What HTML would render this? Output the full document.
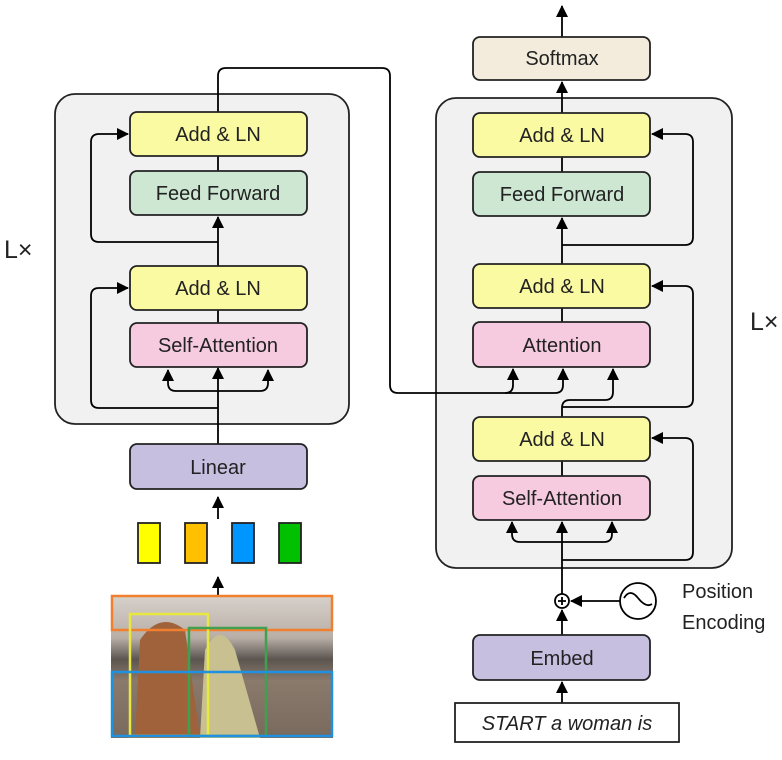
<!DOCTYPE html><html><head><style>body{margin:0;background:#fff}</style></head><body>
<svg width="782" height="755" xmlns="http://www.w3.org/2000/svg" font-family="Liberation Sans, sans-serif">
<defs><marker id="a" markerWidth="12" markerHeight="12" refX="11" refY="6" orient="auto" markerUnits="userSpaceOnUse"><path d="M0,0L12,6L0,12z" fill="#000"/></marker>
<linearGradient id="ph" x1="0" y1="0" x2="0" y2="1"><stop offset="0" stop-color="#d8d2cc"/><stop offset="0.3" stop-color="#b8aea6"/><stop offset="0.45" stop-color="#5c5550"/><stop offset="0.6" stop-color="#8a7a6c"/><stop offset="1" stop-color="#7a6a5e"/></linearGradient></defs>
<rect x="55" y="94" width="294" height="330" rx="20" fill="#f1f1f1" stroke="#222" stroke-width="1.8"/>
<rect x="436" y="98" width="296" height="470" rx="20" fill="#f1f1f1" stroke="#222" stroke-width="1.8"/>
<g stroke="#000" stroke-width="1.8" fill="none">
<path d="M218,595V577" marker-end="url(#a)"/><path d="M218,519V497" marker-end="url(#a)"/>
<path d="M218,444V368" marker-end="url(#a)"/>
<path d="M218,391H176Q168,391 168,383V370" marker-end="url(#a)"/><path d="M218,391H260Q268,391 268,383V370" marker-end="url(#a)"/>
<path d="M218,408H99Q91,408 91,400V296Q91,288 99,288H128" marker-end="url(#a)"/>
<path d="M218,310V323"/><path d="M218,266V217" marker-end="url(#a)"/>
<path d="M218,242H99Q91,242 91,234V142Q91,134 99,134H128" marker-end="url(#a)"/>
<path d="M218,171V156"/><path d="M218,112V76Q218,68 226,68H382Q390,68 390,76V385Q390,393 398,393H505Q513,393 513,385V369" marker-end="url(#a)"/>
<path d="M505,393H555Q563,393 563,385V369" marker-end="url(#a)"/>
<path d="M562,417V408Q562,400 570,400H605Q613,400 613,392V369" marker-end="url(#a)"/>
<path d="M562,407H685Q693,407 693,399V294Q693,286 685,286H652" marker-end="url(#a)"/>
<path d="M562,308V322"/><path d="M562,264V218" marker-end="url(#a)"/>
<path d="M562,245H685Q693,245 693,237V142Q693,134 685,134H652" marker-end="url(#a)"/>
<path d="M562,172V157"/><path d="M562,113V82" marker-end="url(#a)"/><path d="M562,37V6" marker-end="url(#a)"/>
<path d="M562,461V476"/>
<path d="M562,594V522" marker-end="url(#a)"/>
<path d="M562,542H520Q512,542 512,534V522" marker-end="url(#a)"/><path d="M562,542H604Q612,542 612,534V522" marker-end="url(#a)"/>
<path d="M562,560H685Q693,560 693,552V446Q693,438 685,438H652" marker-end="url(#a)"/>
<path d="M562,635V610" marker-end="url(#a)"/><path d="M562,703V682" marker-end="url(#a)"/>
<path d="M620,601H571" marker-end="url(#a)"/>
<circle cx="562" cy="601" r="7" fill="#fff"/><path d="M558,601h8M562,597v8"/>
<circle cx="638" cy="601" r="18" fill="#fff"/><path d="M624,598Q630,588 638,598T652,604"/>
</g>
<g stroke="#222" stroke-width="1.8">
<rect x="130" y="112" width="177" height="44" rx="7" fill="#fafaa2"/>
<rect x="130" y="171" width="177" height="44" rx="7" fill="#cde7d3"/>
<rect x="130" y="266" width="177" height="44" rx="7" fill="#fafaa2"/>
<rect x="130" y="323" width="177" height="44" rx="7" fill="#f6cbe0"/>
<rect x="130" y="444" width="177" height="45" rx="7" fill="#c6bfe0"/>
<rect x="473" y="37" width="177" height="43" rx="7" fill="#f3ecdc"/>
<rect x="473" y="113" width="177" height="44" rx="7" fill="#fafaa2"/>
<rect x="473" y="172" width="177" height="44" rx="7" fill="#cde7d3"/>
<rect x="473" y="264" width="177" height="44" rx="7" fill="#fafaa2"/>
<rect x="473" y="322" width="177" height="45" rx="7" fill="#f6cbe0"/>
<rect x="473" y="417" width="177" height="44" rx="7" fill="#fafaa2"/>
<rect x="473" y="476" width="177" height="44" rx="7" fill="#f6cbe0"/>
<rect x="473" y="635" width="177" height="45" rx="7" fill="#c6bfe0"/>
<rect x="455" y="703" width="224" height="39" fill="#fff"/>
<rect x="138" y="523" width="22" height="40" fill="#ffff00"/>
<rect x="185" y="523" width="22" height="40" fill="#ffc000"/>
<rect x="232" y="523" width="22" height="40" fill="#0096ff"/>
<rect x="279" y="523" width="22" height="40" fill="#00c000"/>
</g>
<rect x="111" y="595" width="222" height="143" fill="url(#ph)"/>
<path d="M140,640Q160,610 185,630L200,738H135Z" fill="#a0623a"/>
<path d="M205,650Q220,620 235,650L260,738H200Z" fill="#c8c090"/>
<g fill="none" stroke-width="2.5"><rect x="112" y="596" width="220" height="34" stroke="#f08030"/><rect x="130" y="614" width="78" height="122" stroke="#e8e840"/><rect x="189" y="628" width="77" height="108" stroke="#40a050"/><rect x="112" y="672" width="220" height="64" stroke="#2090e0"/></g>
<g font-size="20" text-anchor="middle" fill="#222">
<text x="218" y="141">Add &amp; LN</text><text x="218" y="200">Feed Forward</text><text x="218" y="295">Add &amp; LN</text><text x="218" y="352">Self-Attention</text><text x="218" y="474">Linear</text>
<text x="562" y="65">Softmax</text><text x="562" y="142">Add &amp; LN</text><text x="562" y="201">Feed Forward</text><text x="562" y="293">Add &amp; LN</text><text x="562" y="352">Attention</text><text x="562" y="446">Add &amp; LN</text><text x="562" y="505">Self-Attention</text><text x="562" y="665">Embed</text>
<text x="567" y="730" font-style="italic">START a woman is</text>
</g>
<g font-size="25" fill="#222"><text x="4" y="258">L×</text><text x="750" y="330">L×</text>
<text x="682" y="598" font-size="20">Position</text><text x="682" y="629" font-size="20">Encoding</text></g>
</svg></body></html>
